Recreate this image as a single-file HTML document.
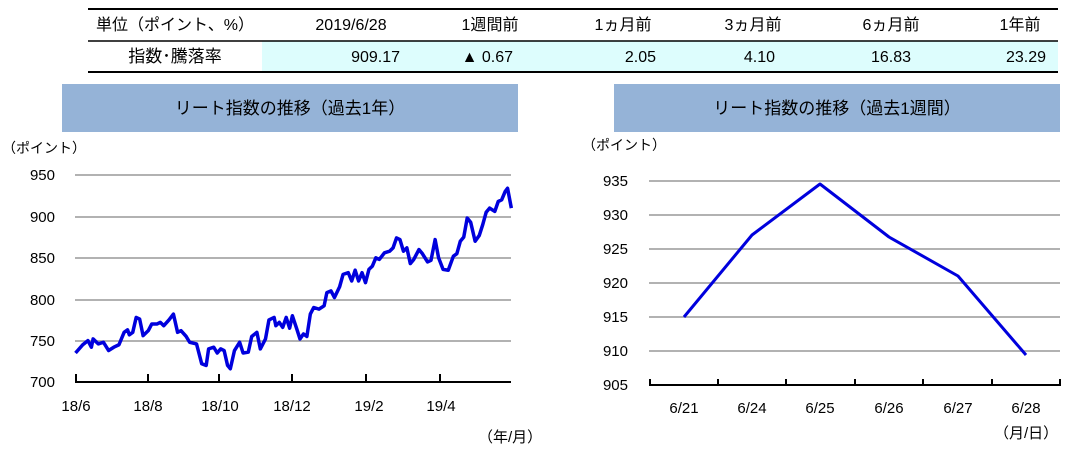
<!DOCTYPE html>
<html><head><meta charset="utf-8"><style>
body{margin:0;background:#fff;width:1082px;height:449px;overflow:hidden;font-family:"Liberation Sans","Noto Sans CJK JP",sans-serif;}
svg text{font-family:"Liberation Sans","Noto Sans CJK JP",sans-serif;}
</style></head><body>
<svg width="1082" height="449" xmlns="http://www.w3.org/2000/svg">
<rect x="262" y="41" width="796" height="31" fill="#DDFDFD"/>
<line x1="88" y1="9" x2="1058" y2="9" stroke="#000" stroke-width="2"/>
<line x1="88" y1="41" x2="1058" y2="41" stroke="#000" stroke-width="1.5"/>
<line x1="88" y1="72" x2="1058" y2="72" stroke="#000" stroke-width="2"/>
<g font-size="16" fill="#000">
<text x="175" y="30" text-anchor="middle">単位（ポイント、%）</text>
<text x="351" y="30" text-anchor="middle">2019/6/28</text>
<text x="490" y="30" text-anchor="middle">1週間前</text>
<text x="623" y="30" text-anchor="middle">1ヵ月前</text>
<text x="753" y="30" text-anchor="middle">3ヵ月前</text>
<text x="891" y="30" text-anchor="middle">6ヵ月前</text>
<text x="1020" y="30" text-anchor="middle">1年前</text>
<text x="175" y="62" text-anchor="middle" font-size="17">指数･騰落率</text>
<text x="400" y="62" text-anchor="end">909.17</text>
<text x="513" y="62" text-anchor="end">▲ 0.67</text>
<text x="656" y="62" text-anchor="end">2.05</text>
<text x="775" y="62" text-anchor="end">4.10</text>
<text x="911" y="62" text-anchor="end">16.83</text>
<text x="1046" y="62" text-anchor="end">23.29</text>
</g>
<rect x="62" y="84" width="456" height="48" fill="#95B3D7"/>
<rect x="614" y="84" width="446" height="48" fill="#95B3D7"/>
<text x="290" y="114" font-size="17" text-anchor="middle">リート指数の推移（過去1年）</text>
<text x="837" y="114" font-size="17" text-anchor="middle">リート指数の推移（過去1週間）</text>
<text x="2" y="153" font-size="14">（ポイント）</text>
<g stroke="#999" stroke-width="1.5">
<line x1="75" y1="175" x2="511" y2="175"/><line x1="75" y1="217" x2="511" y2="217"/>
<line x1="75" y1="258" x2="511" y2="258"/><line x1="75" y1="300" x2="511" y2="300"/>
<line x1="75" y1="341" x2="511" y2="341"/>
</g>
<g stroke="#000" stroke-width="2">
<line x1="75" y1="382" x2="511" y2="382"/>
<line x1="76" y1="382" x2="76" y2="374"/><line x1="148" y1="382" x2="148" y2="374"/>
<line x1="219" y1="382" x2="219" y2="374"/><line x1="292" y1="382" x2="292" y2="374"/>
<line x1="366" y1="382" x2="366" y2="374"/><line x1="440" y1="382" x2="440" y2="374"/>
</g>
<g font-size="15" text-anchor="end">
<text x="55" y="180">950</text><text x="55" y="222">900</text><text x="55" y="263">850</text>
<text x="55" y="305">800</text><text x="55" y="346">750</text><text x="55" y="387">700</text>
</g>
<g font-size="15" text-anchor="middle">
<text x="76" y="411">18/6</text><text x="148" y="411">18/8</text><text x="220" y="411">18/10</text>
<text x="292" y="411">18/12</text><text x="369" y="411">19/2</text><text x="441" y="411">19/4</text>
</g>
<text x="478" y="442" font-size="15">（年/月）</text>
<g transform="matrix(0.3448,0,0,-0.828,0,961.6)">
<polyline fill="none" stroke="#0000DD" stroke-width="3.5" vector-effect="non-scaling-stroke" stroke-linejoin="round" points="219,735 240,745 255,750 265,742 270,752 285,746 300,748 315,738 330,742 345,745 360,760 370,763 375,757 385,760 395,778 405,776 415,756 430,762 440,770 455,770 465,772 475,768 490,775 503,782 515,760 525,762 540,755 550,748 570,746 585,722 598,720 605,740 620,742 630,735 640,740 650,738 660,720 668,716 680,738 695,748 705,735 720,736 730,755 745,760 755,740 770,752 780,775 795,778 800,768 810,772 820,766 830,778 840,765 848,780 860,765 870,752 880,758 890,755 900,782 910,790 925,788 940,792 948,808 960,810 970,802 985,815 995,830 1010,832 1020,822 1030,835 1040,822 1050,832 1060,820 1070,836 1080,840 1090,850 1100,848 1115,856 1130,858 1140,862 1150,874 1160,872 1170,858 1180,862 1190,843 1200,848 1215,860 1225,855 1240,845 1250,847 1262,872 1272,850 1285,836 1300,835 1315,852 1325,855 1335,870 1345,875 1355,898 1365,893 1378,870 1390,877 1400,890 1410,905 1420,910 1435,906 1445,918 1455,920 1465,930 1472,934 1483,910"/>
</g>
<text x="582" y="150" font-size="14">（ポイント）</text>
<g stroke="#999" stroke-width="1.5">
<line x1="649" y1="181" x2="1060" y2="181"/><line x1="649" y1="215" x2="1060" y2="215"/>
<line x1="649" y1="249" x2="1060" y2="249"/><line x1="649" y1="283" x2="1060" y2="283"/>
<line x1="649" y1="317" x2="1060" y2="317"/><line x1="649" y1="351" x2="1060" y2="351"/>
</g>
<g stroke="#000" stroke-width="2">
<line x1="649" y1="385" x2="1061" y2="385"/>
<line x1="650" y1="385" x2="650" y2="379"/><line x1="718" y1="385" x2="718" y2="379"/>
<line x1="786" y1="385" x2="786" y2="379"/><line x1="855" y1="385" x2="855" y2="379"/>
<line x1="923" y1="385" x2="923" y2="379"/><line x1="992" y1="385" x2="992" y2="379"/>
<line x1="1060" y1="385" x2="1060" y2="379"/>
</g>
<g font-size="15" text-anchor="end">
<text x="628" y="186">935</text><text x="628" y="220">930</text><text x="628" y="254">925</text>
<text x="628" y="288">920</text><text x="628" y="322">915</text><text x="628" y="356">910</text>
<text x="628" y="390">905</text>
</g>
<g font-size="15" text-anchor="middle">
<text x="684" y="413">6/21</text><text x="752" y="413">6/24</text><text x="820" y="413">6/25</text>
<text x="889" y="413">6/26</text><text x="958" y="413">6/27</text><text x="1026" y="413">6/28</text>
</g>
<text x="994" y="438" font-size="15">（月/日）</text>
<polyline fill="none" stroke="#0000DD" stroke-width="3" stroke-linejoin="round" points="684,317 752,235 820,184 889,237 958,276 1026,355"/>
</svg>
</body></html>
